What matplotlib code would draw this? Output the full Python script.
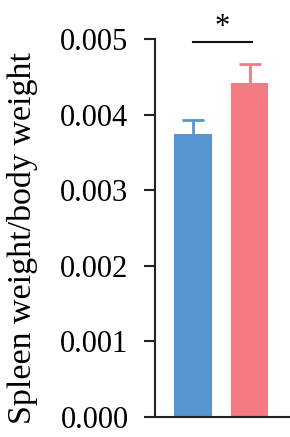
import numpy as np
import matplotlib.pyplot as plt

groups = ['Control', 'Model']
means = [0.00374, 0.00442]
errs = [0.00019, 0.00025]
colors = ['#5596D2', '#F27A80']
yticks = [0.000, 0.001, 0.002, 0.003, 0.004, 0.005]

plt.rcParams['font.family'] = ['Liberation Serif', 'DejaVu Serif']

fig = plt.figure(figsize=(2.9, 4.37), dpi=100)
ax = fig.add_axes([0.5345, 0.0458, 0.4655, 0.865])

x = np.arange(len(groups))
ax.bar(x, means, width=0.67, color=colors, zorder=2)
for xi, m, e, c in zip(x, means, errs, colors):
    eb = ax.errorbar(xi, m, yerr=[[0], [e]], color=c, capsize=8, capthick=2,
                     elinewidth=2, zorder=1)
    # hide the lower cap, only the upper whisker is shown
    eb[1][0].set_visible(False)

ax.set_xlim(-0.673, 1.717)
ax.set_ylim(0, 0.005)
ax.set_yticks(yticks)
ax.set_yticklabels(['%.3f' % t for t in yticks], fontsize=22)
ax.set_xticks([])
ax.set_ylabel('Spleen weight/body weight', fontsize=24.5)
ax.yaxis.set_label_coords(-0.87, 0.474)

for s in ['top', 'right']:
    ax.spines[s].set_visible(False)
ax.spines['left'].set_linewidth(1.5)
ax.spines['bottom'].set_linewidth(1.5)
ax.spines['left'].set_color('#222222')
ax.spines['bottom'].set_color('#222222')
ax.tick_params(axis='y', length=8, width=1.5, color='#222222', pad=11)

# significance bar
ax.plot([0, 1.05], [0.00496, 0.00496], color='#111111', lw=1.5, clip_on=False)
ax.text(0.52, 0.00496, '*', ha='center', va='bottom', fontsize=22, clip_on=False)

fig.savefig('out.png', dpi=100)
